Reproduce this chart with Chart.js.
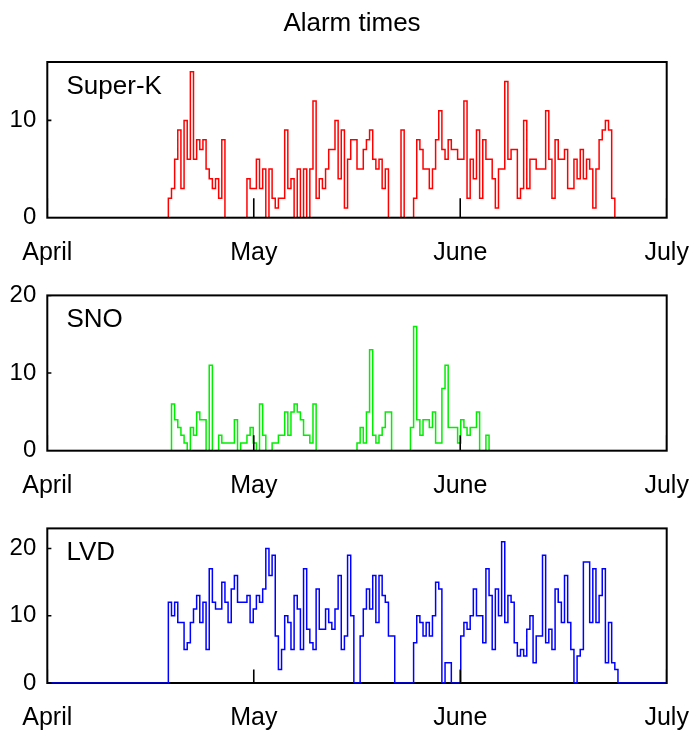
<!DOCTYPE html>
<html>
<head>
<meta charset="utf-8">
<title>Alarm times</title>
<script src="https://cdn.jsdelivr.net/npm/chart.js@4.4.1/dist/chart.umd.min.js"></script>
<style>
  body { margin: 0; background: #fff; }
  #wrap { position: relative; width: 693px; height: 732px; }
  canvas { position: absolute; left: 0; }
</style>
</head>
<body>
<div id="wrap">
  <canvas id="sk" width="693" height="270" style="top:0px"></canvas>
  <canvas id="sno" width="693" height="233" style="top:270px"></canvas>
  <canvas id="lvd" width="693" height="229" style="top:503px"></canvas>
</div>
<script>
// x axis is counted in bins, April 1 -> July 1
const nBins = 197;
const months = ['April', 'May', 'June', 'July'];
const monthPos = [0, nBins / 3, 2 * nBins / 3, nBins];

// alarm counts per bin; the first count sits in bin *Start
const skStart = 39;
const skCounts = [
  2, 3, 6, 9, 3, 10, 6, 15, 6, 8, 7, 8, 5, 4, 3, 4, 2, 8,
  0, 0, 0, 0, 0, 0, 0,
  4, 3, 3, 6, 3, 5, 0, 5, 2, 1, 2, 2, 9, 3, 4, 0, 5, 0, 5, 0, 5,
  12, 2,
  4, 3, 5, 7, 7, 10, 4, 9, 1, 6, 8, 8, 5, 5, 7, 8, 9, 6, 5, 6, 3, 5, 0, 0, 0, 0, 9, 0, 0, 0,
  2, 8, 7, 5, 5, 3, 5, 8, 11, 7, 6, 8, 7, 7, 6, 6, 12, 2, 6, 4, 9, 2, 8, 6, 6, 4, 1,
  5, 5, 14, 6, 7, 7, 2, 3, 10, 3, 6, 6, 5, 5, 5, 11, 6, 2, 8, 6, 6, 7, 3, 3, 6, 4, 7, 4, 6, 5,
  1, 5, 8, 9, 10, 9, 2
];
const snoStart = 40;
const snoCounts = [
  6, 4, 3, 2, 1, 0, 3, 2, 5, 4, 4, 0, 11, 0, 0, 2, 1, 1, 1, 1, 4, 0, 1, 1, 2, 3, 1, 0, 6, 2,
  0, 0, 1, 1, 2, 2, 5, 2, 5, 6, 5, 4, 2, 2, 1, 6,
  0, 0, 0, 0, 0, 0, 0, 0, 0, 0, 0, 0, 0,
  1, 3, 1, 5, 13, 2, 1, 2, 3, 5, 5, 0, 0, 0, 0, 0, 0, 3, 16, 4, 2, 4, 4, 3, 5, 1, 1, 8, 11,
  3, 3, 3, 1, 4, 3, 2, 3, 3, 5, 0, 0, 2
];
const lvdStart = 39;
const lvdCounts = [
  12, 10, 12, 9, 9, 5, 6, 9, 11, 13, 9, 12, 5, 17, 12, 11, 11, 15, 12, 9, 14, 16, 12, 12, 12,
  13, 9, 11, 13, 12, 14, 20, 16, 19, 7, 2, 5, 10, 9, 5, 13, 11, 5, 17, 8, 6, 5, 14,
  8, 8, 11, 9, 8, 11, 16, 5, 7, 19, 10, 0, 0, 7, 11, 14, 11, 16, 9, 16, 13, 12, 7, 7,
  0, 0, 0, 0, 0, 0, 6, 10, 9, 7, 9, 7, 10, 15, 14, 0, 3, 3, 0, 0, 0, 7, 9, 8, 10, 14, 10, 10,
  6, 17, 13, 5, 14,
  10, 21, 9, 13, 12, 6, 4, 5, 4, 8, 10, 3, 7, 7, 19, 6, 8, 5, 14, 12, 9, 16, 9, 5, 0, 4, 5,
  18, 18, 9, 17, 9, 13, 17, 3, 9, 3, 2
];

Chart.defaults.font.family = '"Liberation Sans", Arial, sans-serif';
Chart.defaults.color = '#000';

// histogram outline as stepped line points (bins are centred on integers)
function steps(start, counts, wholeAxis) {
  const pts = [];
  if (wholeAxis) pts.push({ x: 0, y: 0 });
  pts.push({ x: start - 0.5, y: 0 });
  counts.forEach((c, i) => pts.push({ x: start - 0.5 + i, y: c }));
  const end = start - 0.5 + counts.length;
  pts.push({ x: end, y: 0 });
  if (wholeAxis) pts.push({ x: nBins, y: 0 });
  return pts;
}

// inward tick marks, as in the original plot
function tickMarks(yTicks) {
  const pts = [];
  monthPos.forEach(p => pts.push({ x: p, y: 0 }, { x: p, y: 2 }, { x: p, y: null }));
  yTicks.forEach(v => pts.push({ x: 0, y: v }, { x: 1.3, y: v }, { x: 0, y: null }));
  return pts;
}

const framePlugin = {
  id: 'frame',
  draw(chart) {
    const a = chart.chartArea, ctx = chart.ctx;
    ctx.save();
    ctx.strokeStyle = '#000';
    ctx.lineWidth = 2;
    ctx.strokeRect(a.left, a.top, a.right - a.left, a.bottom - a.top);
    ctx.restore();
  },
  beforeDatasetsDraw(chart, args, opts) { if (!opts.onTop) this.draw(chart); },
  afterDatasetsDraw(chart, args, opts) { if (opts.onTop) this.draw(chart); }
};

const textPlugin = {
  id: 'texts',
  afterDraw(chart, args, opts) {
    const ctx = chart.ctx, a = chart.chartArea;
    ctx.save();
    ctx.fillStyle = '#000';
    ctx.textBaseline = 'alphabetic';
    ctx.font = '26px "Liberation Sans", Arial, sans-serif';
    ctx.textAlign = 'left';
    ctx.fillText(opts.name, 66.5, a.top + 32);
    if (opts.title) {
      ctx.textAlign = 'center';
      ctx.fillText(opts.title, 352, 31);
    }
    ctx.restore();
  }
};

function panel(id, name, color, pts, yMax, yTicks, plotTop, plotBottom, onTop, title) {
  const cv = document.getElementById(id);
  return new Chart(cv, {
    type: 'line',
    data: {
      datasets: [{
        data: tickMarks(yTicks),
        borderColor: '#000',
        borderWidth: 1.6,
        pointRadius: 0,
        spanGaps: false,
        order: 0
      }, {
        data: pts,
        borderColor: color,
        borderWidth: 1.5,
        pointRadius: 0,
        stepped: true,
        order: 1
      }]
    },
    options: {
      responsive: false,
      animation: false,
      events: [],
      layout: { padding: { top: plotTop, right: 26.3, left: 0, bottom: 0 } },
      plugins: {
        legend: { display: false },
        tooltip: { enabled: false },
        frame: { onTop: onTop },
        texts: { name: name, title: title }
      },
      scales: {
        x: {
          type: 'linear',
          min: 0,
          max: nBins,
          grid: { display: false, drawTicks: false },
          border: { display: false },
          afterBuildTicks: s => { s.ticks = monthPos.map(v => ({ value: v })); },
          afterFit: s => {
            s.height = cv.height - plotBottom;
            s.paddingLeft = 0;
            s.paddingRight = 0;
          },
          ticks: {
            autoSkip: false,
            maxRotation: 0,
            padding: 20,
            font: { size: 25 },
            callback: (v, i) => months[i]
          }
        },
        y: {
          min: 0,
          max: yMax,
          grid: { display: false, drawTicks: false },
          border: { display: false },
          afterBuildTicks: s => { s.ticks = yTicks.map(v => ({ value: v })); },
          afterFit: s => { s.width = 47.3; },
          ticks: { padding: 11, font: { size: 24 } }
        }
      }
    },
    plugins: [framePlugin, textPlugin]
  });
}

panel('sk', 'Super-K', '#ff0000', steps(skStart, skCounts, false), 16, [0, 10], 62, 217.7, true, 'Alarm times');
panel('sno', 'SNO', '#00ee00', steps(snoStart, snoCounts, false), 20, [0, 10, 20], 25, 180.7, true);
panel('lvd', 'LVD', '#0000ff', steps(lvdStart, lvdCounts, true), 23, [0, 10, 20], 25.3, 180, false);
</script>
</body>
</html>
